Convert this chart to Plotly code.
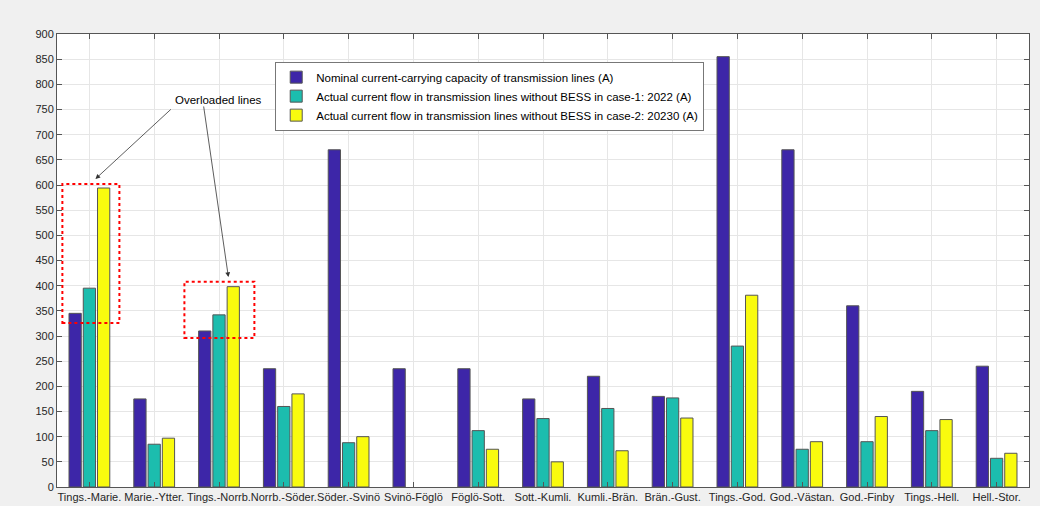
import plotly.graph_objects as go

categories = ["Tings.-Marie.", "Marie.-Ytter.", "Tings.-Norrb.", "Norrb.-Söder.", "Söder.-Svinö",
              "Svinö-Föglö", "Föglö-Sott.", "Sott.-Kumli.", "Kumli.-Brän.", "Brän.-Gust.",
              "Tings.-God.", "God.-Västan.", "God.-Finby", "Tings.-Hell.", "Hell.-Stor."]
nominal = [345, 175, 310, 235, 670, 235, 235, 175, 220, 180, 855, 670, 360, 190, 240]
case1 = [395, 85, 342, 160, 88, 0, 112, 136, 156, 177, 280, 75, 90, 112, 57]
case2 = [594, 97, 398, 185, 100, 0, 75, 50, 72, 137, 381, 90, 140, 134, 67]
yticks = list(range(0, 901, 50))

names = ["Nominal current-carrying capacity of transmission lines (A)",
         "Actual current flow in transmission lines without BESS in case-1: 2022 (A)",
         "Actual current flow in transmission lines without BESS in case-2: 20230 (A)"]
colors = ["#3D26A8", "#1CBDAE", "#F9FB0E"]

FAM = "Liberation Sans, Arial, sans-serif"
xs = list(range(1, len(categories) + 1))
fig = go.Figure()
for vals, nm, c in zip([nominal, case1, case2], names, colors):
    fig.add_trace(go.Bar(x=xs, y=vals, name=nm,
                         marker=dict(color=c, line=dict(color="#555555",
                                                        width=[0 if v == 0 else 1 for v in vals]))))

fig.update_layout(
    width=1040, height=506,
    margin=dict(l=57, r=11, t=34, b=19),
    paper_bgcolor="#F0F0F0", plot_bgcolor="white",
    barmode="group", bargap=0.34, bargroupgap=0.14,
    font=dict(family=FAM, size=11, color="#262626"),
    showlegend=True,
    legend=dict(x=0.2245, y=0.939, xanchor="left", yanchor="top",
                bgcolor="white", bordercolor="#777777", borderwidth=1,
                font=dict(family=FAM, size=11.5, color="black"),
                tracegroupgap=0, itemwidth=30),
)
fig.update_xaxes(range=[0.5, 15.5], tickvals=xs, ticktext=categories, tickangle=0, automargin=False,
                 ticks="inside", ticklen=5, tickcolor="#555555",
                 tickfont=dict(family=FAM, size=11, color="#262626"),
                 showline=True, linecolor="#555555", linewidth=1, mirror="ticks",
                 showgrid=True, gridcolor="#E6E6E6", zeroline=False)
fig.update_yaxes(range=[0, 900], tickvals=yticks, automargin=False,
                 ticks="inside", ticklen=5, tickcolor="#555555",
                 tickfont=dict(family=FAM, size=11, color="#262626"),
                 showline=True, linecolor="#555555", linewidth=1, mirror="ticks",
                 showgrid=True, gridcolor="#E6E6E6", zeroline=False)

# overloaded-line boxes
fig.add_shape(type="rect", x0=0.583, x1=1.463, y0=326, y1=602, xref="x", yref="y",
              line=dict(color="#FF0000", width=2, dash="dot"))
fig.add_shape(type="rect", x0=2.466, x1=3.546, y0=296, y1=408, xref="x", yref="y",
              line=dict(color="#FF0000", width=2, dash="dot"))

fig.add_annotation(x=2.99, y=769, xref="x", yref="y", text="Overloaded lines", showarrow=False,
                   font=dict(family=FAM, size=11.5, color="black"))
fig.add_annotation(x=1.093, y=612, ax=2.28, ay=753, xref="x", yref="y", axref="x", ayref="y",
                   text="", showarrow=True, arrowhead=2, arrowsize=1.2, arrowwidth=0.8, arrowcolor="#333333")
fig.add_annotation(x=3.145, y=417, ax=2.76, ay=759, xref="x", yref="y", axref="x", ayref="y",
                   text="", showarrow=True, arrowhead=2, arrowsize=1.2, arrowwidth=0.8, arrowcolor="#333333")

fig.write_html("out.html")
